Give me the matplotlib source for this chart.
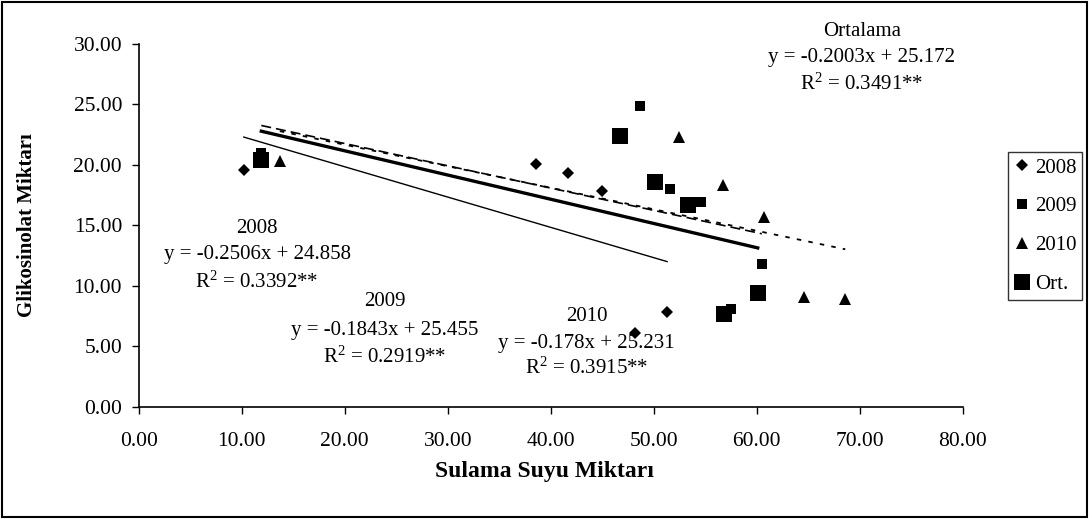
import matplotlib
matplotlib.use("Agg")
import matplotlib.pyplot as plt
from matplotlib.patches import Rectangle
from matplotlib.ticker import FormatStrFormatter, MultipleLocator
import numpy as np

plt.rcParams["font.family"] = ["Liberation Serif", "DejaVu Serif"]
plt.rcParams["mathtext.fontset"] = "custom"
plt.rcParams["mathtext.rm"] = "Liberation Serif"
plt.rcParams["mathtext.it"] = "Liberation Serif:italic"
plt.rcParams["mathtext.default"] = "regular"

# Irrigation water amount (x) and glucosinolate content (y) per season
x_2008 = [10.2, 38.6, 41.7, 45.0, 48.2, 51.3]
y_2008 = [19.6, 20.1, 19.3, 17.8, 6.1, 7.8]
x_2009 = [11.9, 48.7, 51.6, 54.6, 57.5, 60.5]
y_2009 = [21.0, 24.9, 18.0, 16.9, 8.1, 11.8]
x_2010 = [13.7, 52.5, 56.7, 60.7, 64.6, 68.6]
y_2010 = [20.3, 22.3, 18.3, 15.7, 9.05, 8.9]
x_ort = [11.9, 46.7, 50.1, 53.3, 56.8, 60.1]
y_ort = [20.4, 22.4, 18.6, 16.7, 7.7, 9.4]

series_names = ["2008", "2009", "2010", "Ort."]
fit_titles = ["2008", "2009", "2010", "Ortalama"]
slopes = [-0.2506, -0.1843, -0.178, -0.2003]
intercepts = [24.858, 25.455, 25.231, 25.172]
r_squared = [0.3392, 0.2919, 0.3915, 0.3491]

xs = [x_2008, x_2009, x_2010, x_ort]
ys = [y_2008, y_2009, y_2010, y_ort]

markers = ["D", "s", "^", "s"]
marker_sizes = [6.5, 7.6, 8.4, 11.3]
line_styles = ["-", (0, (6, 3)), (0, (2.5, 4)), "-"]
line_widths = [1.0, 1.2, 1.3, 2.4]

fig = plt.figure(figsize=(10.89, 5.19), dpi=100)
ax = fig.add_axes([0.1274, 0.2164, 0.7566, 0.6988])

# least-squares trend lines over each series' x range
for i in range(4):
    xr = np.array([min(xs[i]), max(xs[i])])
    ax.plot(xr, slopes[i] * xr + intercepts[i], color="black",
            linestyle=line_styles[i], linewidth=line_widths[i], zorder=2)

handles = []
for i in range(4):
    h, = ax.plot(xs[i], ys[i], linestyle="none", marker=markers[i],
                 markersize=marker_sizes[i], color="black",
                 markeredgewidth=0, label=series_names[i], zorder=3)
    handles.append(h)

ax.set_xlim(0, 80)
ax.set_ylim(0, 30)
ax.xaxis.set_major_locator(MultipleLocator(10))
ax.yaxis.set_major_locator(MultipleLocator(5))
ax.xaxis.set_major_formatter(FormatStrFormatter("%.2f"))
ax.yaxis.set_major_formatter(FormatStrFormatter("%.2f"))
ax.tick_params(axis="x", direction="out", length=5, width=1, labelsize=15.5, pad=13)
ax.tick_params(axis="y", direction="out", length=5, width=1, labelsize=15.5, pad=7)
for side in ("top", "right"):
    ax.spines[side].set_visible(False)
for side in ("left", "bottom"):
    ax.spines[side].set_linewidth(1.2)

ax.set_xlabel("Sulama Suyu Miktarı", fontsize=17, fontweight="bold",
              va="center")
ax.xaxis.set_label_coords(0.492, -0.18)
ax.set_ylabel("Glikosinolat Miktarı", fontsize=15, fontweight="bold", labelpad=26)

# regression equations: title, equation and R² stacked on three lines
block_pos = [(11.5, [14.78, 12.55, 10.31]),
             (23.9, [8.66, 6.34, 4.10]),
             (43.5, [7.44, 5.24, 3.18]),
             (70.2, [31.05, 28.85, 26.65])]
for i in range(4):
    bx, by = block_pos[i]
    lines = [fit_titles[i],
             f"y = {slopes[i]:g}x + {intercepts[i]:g}",
             f"R$^{{2}}$ = {r_squared[i]:g}**"]
    for txt, yy in zip(lines, by):
        ax.text(bx, yy, txt, ha="center", va="center", fontsize=15,
                clip_on=False, zorder=4)

leg = fig.legend(handles=handles, loc="center left",
                 bbox_to_anchor=(1008 / 1089, 1 - 226 / 519),
                 bbox_transform=fig.transFigure, fontsize=15,
                 frameon=True, fancybox=False, edgecolor="black",
                 handlelength=0.8, handletextpad=0.2, labelspacing=0.92,
                 borderpad=0.28, borderaxespad=0, markerscale=1.0)
leg.get_frame().set_linewidth(1.0)

# outer chart border
fig.patches.append(Rectangle((0.0015, 0.003), 0.997, 0.994,
                             transform=fig.transFigure, fill=False,
                             edgecolor="black", linewidth=1.5))

fig.savefig("out.png", dpi=100)
